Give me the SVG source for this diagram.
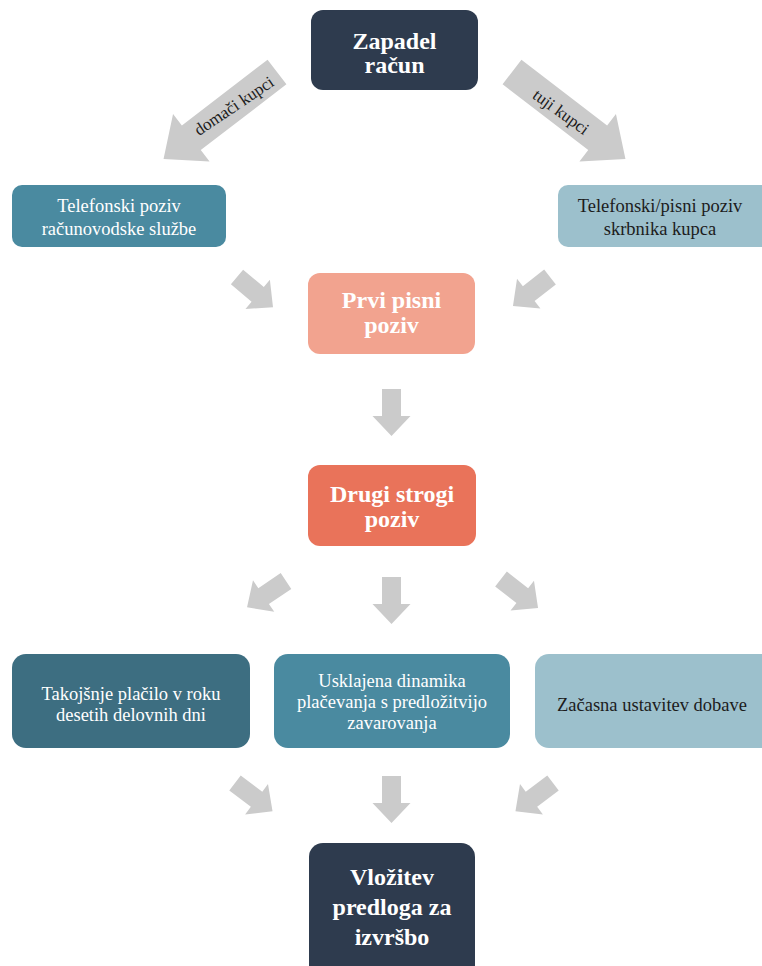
<svg xmlns="http://www.w3.org/2000/svg" xmlns:xlink="http://www.w3.org/1999/xlink" width="762" height="966" viewBox="0 0 762 966">
<style>
.arr{fill:#cbcbcb}
.bt{font-family:"Liberation Serif","Times New Roman",serif;font-weight:bold;font-size:24px;fill:#ffffff;text-anchor:middle}
.nt{font-family:"Liberation Serif","Times New Roman",serif;font-size:18.5px;text-anchor:middle}
.w{fill:#ffffff}
.d{fill:#1c1c1c}
.lbl{font-family:"Liberation Serif","Times New Roman",serif;font-size:17px;fill:#1c1c1c;text-anchor:middle;dominant-baseline:central}
</style>
<defs>
<polygon id="big" points="0,-15.5 108,-15.5 108,-30 143,0 108,30 108,15.5 0,15.5"/>
<polygon id="sm" points="0,-9.5 27,-9.5 27,-19 47,0 27,19 27,9.5 0,9.5"/>
</defs>
<rect width="762" height="966" fill="#ffffff"/>
<g id="connectors" class="arr">
<use xlink:href="#big" href="#big" transform="translate(277,72) rotate(142.5)"/>
<use xlink:href="#big" href="#big" transform="translate(512,72) rotate(37.5)"/>
<use xlink:href="#sm" href="#sm" transform="translate(237,277) rotate(40)"/>
<use xlink:href="#sm" href="#sm" transform="translate(550,277) rotate(142)"/>
<use xlink:href="#sm" href="#sm" transform="translate(391.5,389) rotate(90)"/>
<use xlink:href="#sm" href="#sm" transform="translate(286,581) rotate(146)"/>
<use xlink:href="#sm" href="#sm" transform="translate(391.5,577) rotate(90)"/>
<use xlink:href="#sm" href="#sm" transform="translate(501,579) rotate(38)"/>
<use xlink:href="#sm" href="#sm" transform="translate(235,783) rotate(37)"/>
<use xlink:href="#sm" href="#sm" transform="translate(391.5,776) rotate(90)"/>
<use xlink:href="#sm" href="#sm" transform="translate(553,783) rotate(143)"/>
<text class="lbl" transform="translate(234,106) rotate(-34)">domači kupci</text>
<text class="lbl" transform="translate(561,112) rotate(36)">tuji kupci</text>
</g>
<g id="n-zapadel">
<rect x="311" y="10" width="167" height="80" rx="12" fill="#2e3b4e"/>
<text class="bt" x="394.5" y="49">Zapadel</text>
<text class="bt" x="394.5" y="73">račun</text>
</g>
<g id="n-tel-rac">
<rect x="12" y="185" width="214" height="62" rx="10" fill="#4a8aa0"/>
<text class="nt w" x="119" y="212">Telefonski poziv</text>
<text class="nt w" x="119" y="235">računovodske službe</text>
</g>
<g id="n-tel-skrb">
<rect x="558" y="185" width="220" height="62" rx="10" fill="#9cc0cc"/>
<text class="nt d" x="660" y="212">Telefonski/pisni poziv</text>
<text class="nt d" x="660" y="235">skrbnika kupca</text>
</g>
<g id="n-prvi">
<rect x="308" y="273" width="167" height="81" rx="12" fill="#f2a38f"/>
<text class="bt" x="391.5" y="308">Prvi pisni</text>
<text class="bt" x="391.5" y="333">poziv</text>
</g>
<g id="n-drugi">
<rect x="308" y="465" width="168" height="81" rx="12" fill="#e9735a"/>
<text class="bt" x="392" y="502">Drugi strogi</text>
<text class="bt" x="392" y="527">poziv</text>
</g>
<g id="n-takojsnje">
<rect x="12" y="654" width="238" height="94" rx="14" fill="#3d6e81"/>
<text class="nt w" x="131" y="700">Takojšnje plačilo v roku</text>
<text class="nt w" x="131" y="721">desetih delovnih dni</text>
</g>
<g id="n-usklajena">
<rect x="274" y="654" width="236" height="94" rx="14" fill="#4a8aa0"/>
<text class="nt w" x="392" y="687">Usklajena dinamika</text>
<text class="nt w" x="392" y="708">plačevanja s predložitvijo</text>
<text class="nt w" x="392" y="729">zavarovanja</text>
</g>
<g id="n-zacasna">
<rect x="535" y="654" width="240" height="94" rx="14" fill="#9cc0cc"/>
<text class="nt d" x="652" y="711">Začasna ustavitev dobave</text>
</g>
<g id="n-vlozitev">
<rect x="309" y="843" width="166" height="140" rx="14" fill="#2e3b4e"/>
<text class="bt" x="392" y="885">Vložitev</text>
<text class="bt" x="392" y="915">predloga za</text>
<text class="bt" x="392" y="945">izvršbo</text>
</g>
</svg>
